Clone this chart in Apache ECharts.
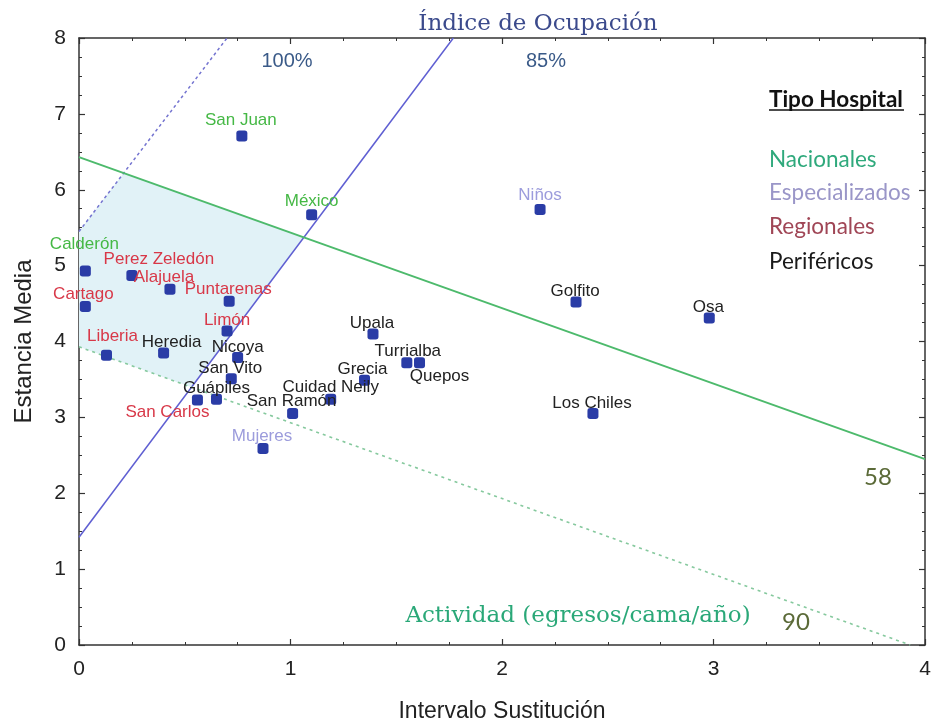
<!DOCTYPE html>
<html>
<head>
<meta charset="utf-8">
<title>Estancia Media vs Intervalo Sustitución</title>
<script src="https://cdn.jsdelivr.net/npm/echarts@6/dist/echarts.min.js"></script>
<style>
    html, body { margin: 0; padding: 0; background: #fff; }
    #chart { width: 938px; height: 723px; }
</style>
</head>
<body>
<div id="chart"></div>
<script>
    // hospitales: [intervalo sustitución, estancia media, nombre]
    const nacionales = [[0.77, 6.71, 'San Juan'], [1.10, 5.67, 'México'], [0.03, 4.93, 'Calderón']];
    const especializados = [[2.18, 5.74, 'Niños'], [0.87, 2.59, 'Mujeres']];
    const regionales = [
        [0.25, 4.87, 'Perez Zeledón'], [0.43, 4.69, 'Alajuela'], [0.03, 4.46, 'Cartago'],
        [0.71, 4.53, 'Puntarenas'], [0.70, 4.14, 'Limón'], [0.13, 3.82, 'Liberia'], [0.56, 3.23, 'San Carlos']
    ];
    const perifericos = [
        [0.40, 3.85, 'Heredia'], [0.75, 3.79, 'Nicoya'], [0.72, 3.51, 'San Vito'], [0.65, 3.24, 'Guápiles'],
        [1.01, 3.05, 'San Ramón'], [1.19, 3.24, 'Cuidad Neily'], [1.39, 4.10, 'Upala'], [1.35, 3.49, 'Grecia'],
        [1.55, 3.72, 'Turrialba'], [1.61, 3.72, 'Quepos'], [2.35, 4.52, 'Golfito'], [2.98, 4.31, 'Osa'],
        [2.43, 3.05, 'Los Chiles']
    ];

    // rectas de referencia (dos extremos cada una)
    const ocupacion100 = [[0, 5.45], [0.70, 8]];
    const ocupacion85 = [[0, 1.42], [1.77, 8]];
    const actividad58 = [[0, 6.43], [4, 2.45]];
    const actividad90 = [[0, 3.93], [3.93, 0]];

    const xRange = [0, 4];
    const yRange = [0, 8];

    // where each label sits relative to its point
    const labelOffsets = {
        'San Juan': [-1, -16], 'México': [0, -13], 'Calderón': [-1, -27],
        'Niños': [0, -14], 'Mujeres': [-1, -12],
        'Perez Zeledón': [27, -16], 'Alajuela': [-6, -12], 'Cartago': [-2, -12], 'Puntarenas': [-1, -12],
        'Limón': [0, -11], 'Liberia': [6, -19], 'San Carlos': [-30, 12],
        'Heredia': [8, -11], 'Nicoya': [0, -10], 'San Vito': [-1, -10], 'Guápiles': [0, -11],
        'San Ramón': [-1, -12], 'Cuidad Neily': [0, -12], 'Upala': [-1, -11], 'Grecia': [-2, -11],
        'Turrialba': [1, -11], 'Quepos': [20, 14], 'Golfito': [-1, -11], 'Osa': [-1, -11], 'Los Chiles': [-1, -10]
    };

    function slope(l) {
        return (l[1][1] - l[0][1]) / (l[1][0] - l[0][0]);
    }
    function atX(l, x) {
        return l[0][1] + slope(l) * (x - l[0][0]);
    }
    function intersect(a, b) {
        const m1 = slope(a), m2 = slope(b);
        const x = (b[0][1] - a[0][1] + m1 * a[0][0] - m2 * b[0][0]) / (m1 - m2);
        return [x, atX(a, x)];
    }

    // zona sombreada
    const zona = [
        [0, atX(actividad90, 0)],
        [0, atX(ocupacion100, 0)],
        intersect(ocupacion100, actividad58),
        intersect(ocupacion85, actividad58),
        intersect(ocupacion85, actividad90)
    ];

    const axisColor = '#333';
    const sans = 'Liberation Sans';

    function hospitalSeries(name, data, color) {
        return {
            name: name,
            type: 'scatter',
            symbol: 'roundRect',
            symbolSize: 11,
            itemStyle: { color: '#2a3ca6', opacity: 1 },
            label: {
                show: true,
                position: 'inside',
                formatter: '{b}',
                color: color,
                fontSize: 17,
                fontFamily: sans
            },
            emphasis: { disabled: true },
            z: 5,
            data: data.map(d => ({
                value: [d[0], d[1]],
                name: d[2],
                label: { offset: labelOffsets[d[2]] || [0, -12] }
            }))
        };
    }

    function refLine(line, color, width, type) {
        return {
            type: 'line',
            data: line,
            showSymbol: false,
            symbol: 'none',
            silent: true,
            lineStyle: { color: color, width: width, type: type },
            z: 3
        };
    }

    function axisBase(extra) {
        return Object.assign({
            type: 'value',
            interval: 1,
            axisLine: { show: true, onZero: false, lineStyle: { color: axisColor, width: 1.5 } },
            axisTick: { show: true, inside: true, length: 6, lineStyle: { color: axisColor, width: 1.2 } },
            minorTick: { show: true, splitNumber: 4, length: 3, lineStyle: { color: axisColor, width: 1 } },
            splitLine: { show: false },
            minorSplitLine: { show: false }
        }, extra);
    }

    const labelStyle = {
        fontSize: 21, color: '#222', fontFamily: sans,
        showMinLabel: true, showMaxLabel: true
    };

    const myChart = echarts.init(document.getElementById('chart'));
    const option = {
        backgroundColor: '#fff',
        animation: false,
        grid: { left: 79, right: 13, top: 38, bottom: 78, outerBoundsMode: 'none' },
        xAxis: [
            axisBase({
                min: xRange[0], max: xRange[1], position: 'bottom',
                name: 'Intervalo Sustitución', nameLocation: 'middle', nameGap: 55,
                nameTextStyle: { fontSize: 23, color: '#222', fontFamily: sans },
                axisLabel: Object.assign({ margin: 14 }, labelStyle)
            }),
            axisBase({
                min: xRange[0], max: xRange[1], position: 'top',
                axisLabel: { show: false }
            })
        ],
        yAxis: [
            axisBase({
                min: yRange[0], max: yRange[1], position: 'left',
                name: 'Estancia Media', nameLocation: 'middle', nameGap: 43,
                nameTextStyle: { fontSize: 24, color: '#222', fontFamily: sans },
                axisLabel: Object.assign({ margin: 13 }, labelStyle)
            }),
            axisBase({
                min: yRange[0], max: yRange[1], position: 'right',
                axisLabel: { show: false }
            })
        ],
        series: [
            {
                type: 'custom',
                silent: true,
                z: 1,
                data: [[0, 0]],
                renderItem: function (params, api) {
                    return {
                        type: 'polygon',
                        shape: { points: zona.map(p => api.coord(p)) },
                        style: { fill: '#e1f2f7' }
                    };
                }
            },
            refLine(ocupacion100, '#7474d0', 1.5, [3, 3]),
            refLine(ocupacion85, '#5f5fd2', 1.5, 'solid'),
            refLine(actividad58, '#4dba6c', 2, 'solid'),
            refLine(actividad90, '#86c99e', 1.6, [3, 4]),
            hospitalSeries('Nacionales', nacionales, '#45b845'),
            hospitalSeries('Especializados', especializados, '#9c9cdc'),
            hospitalSeries('Regionales', regionales, '#d83848'),
            hospitalSeries('Periféricos', perifericos, '#222')
        ],
        graphic: [
            { type: 'text', x: 538, y: 24, style: { text: 'Índice de Ocupación', font: '23px "DejaVu Serif"', fill: '#3b4a8c', align: 'center', verticalAlign: 'middle' } },
            { type: 'text', x: 287, y: 61, style: { text: '100%', font: '20px "Liberation Sans"', fill: '#3a5a88', align: 'center', verticalAlign: 'middle' } },
            { type: 'text', x: 546, y: 61, style: { text: '85%', font: '20px "Liberation Sans"', fill: '#3a5a88', align: 'center', verticalAlign: 'middle' } },
            { type: 'text', x: 769, y: 100, style: { text: 'Tipo Hospital', font: 'bold 22.5px Lato', fill: '#111', align: 'left', verticalAlign: 'middle' } },
            { type: 'line', shape: { x1: 769, y1: 110, x2: 904, y2: 110 }, style: { stroke: '#111', lineWidth: 1.5 } },
            { type: 'text', x: 769, y: 160, style: { text: 'Nacionales', font: '22.5px Lato', fill: '#2fa97c', align: 'left', verticalAlign: 'middle' } },
            { type: 'text', x: 769, y: 193, style: { text: 'Especializados', font: '22.5px Lato', fill: '#9a96c8', align: 'left', verticalAlign: 'middle' } },
            { type: 'text', x: 769, y: 227, style: { text: 'Regionales', font: '22.5px Lato', fill: '#a04656', align: 'left', verticalAlign: 'middle' } },
            { type: 'text', x: 769, y: 262, style: { text: 'Periféricos', font: '22.5px Lato', fill: '#1a1a1a', align: 'left', verticalAlign: 'middle' } },
            { type: 'text', x: 878, y: 477, style: { text: '58', font: '24px Lato', fill: '#5b6a38', align: 'center', verticalAlign: 'middle' } },
            { type: 'text', x: 796, y: 622, style: { text: '90', font: '24px Lato', fill: '#5b6a38', align: 'center', verticalAlign: 'middle' } },
            { type: 'text', x: 578, y: 616, style: { text: 'Actividad (egresos/cama/año)', font: '23px "DejaVu Serif"', fill: '#2aa878', align: 'center', verticalAlign: 'middle' } }
        ]
    };
    myChart.setOption(option);
</script>
</body>
</html>
